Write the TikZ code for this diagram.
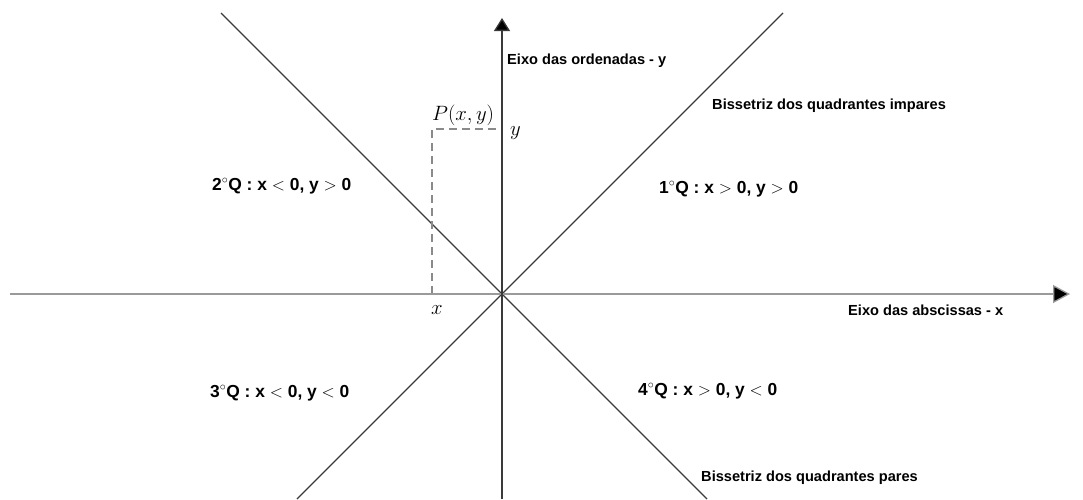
\documentclass[tikz,border=0pt]{standalone}
\usepackage{fontspec}
\setsansfont{Liberation Sans}
\usetikzlibrary{arrows.meta}
\definecolor{diag}{HTML}{3A3A3A}
\definecolor{xax}{HTML}{9A9A9A}
\definecolor{dash}{HTML}{8A8A8A}
\tikzset{
  axisline/.style={line width=1.3pt},
  diagline/.style={line width=1.2pt, draw=diag},
  guide/.style={line width=1.1pt, draw=dash, dash pattern=on 8pt off 5pt},
  boldlab/.style={font=\fontsize{14.6}{17}\selectfont\sffamily\bfseries, inner sep=0pt, anchor=base west},
  quadlab/.style={font=\fontsize{17.4}{20}\selectfont\sffamily\bfseries, inner sep=0pt, anchor=base west},
  mathlab/.style={font=\fontsize{19.5}{22}\selectfont, inner sep=0pt, anchor=base west}
}
\begin{document}
\begin{tikzpicture}[x=1pt,y=-1pt]
\useasboundingbox (0,0) rectangle (1083,499);
% coordinates
\coordinate (O) at (502,294);
\coordinate (yb) at (502,499);
\coordinate (yt) at (502,18);
\coordinate (xl) at (10,294);
\coordinate (xr) at (1070,294);
\coordinate (a1) at (783,13);
\coordinate (a2) at (297,499);
\coordinate (b1) at (221,13);
\coordinate (b2) at (707,499);
\coordinate (Px) at (432,294);
\coordinate (Pc) at (432,129);
\coordinate (Py) at (502,129);
% diagonals
\draw[diagline] (a2) -- (O) -- (a1);
\draw[diagline] (b1) -- (O) -- (b2);
% dashed guides
\draw[guide] (Px) -- (Pc) -- (Py);
% axes
\draw[axisline, draw=xax, -{Triangle[length=17pt,width=18pt,fill=black]}] (xl) -- (xr);
\draw[axisline, draw=diag, -{Triangle[length=13pt,width=16pt,fill=black]}] (yb) -- (yt);
% labels
\node[boldlab] (lord) at (507,64) {Eixo das ordenadas - y};
\node[boldlab] (labs) at (848,315) {Eixo das abscissas - x};
\node[boldlab] (limp) at (712,109) {Bissetriz dos quadrantes impares};
\node[boldlab] (lpar) at (701,481) {Bissetriz dos quadrantes pares};
\node[mathlab] (lP) at (432,120) {$P(x,y)$};
\node[mathlab] (ly) at (510,135) {$y$};
\node[mathlab] (lx) at (431,314) {$x$};
\node[quadlab] (q1) at (659,193) {1$^{\circ}$Q : x $>$ 0, y $>$ 0};
\node[quadlab] (q2) at (212,190) {2$^{\circ}$Q : x $<$ 0, y $>$ 0};
\node[quadlab] (q3) at (210,397) {3$^{\circ}$Q : x $<$ 0, y $<$ 0};
\node[quadlab] (q4) at (638,395) {4$^{\circ}$Q : x $>$ 0, y $<$ 0};
\end{tikzpicture}
\end{document}
